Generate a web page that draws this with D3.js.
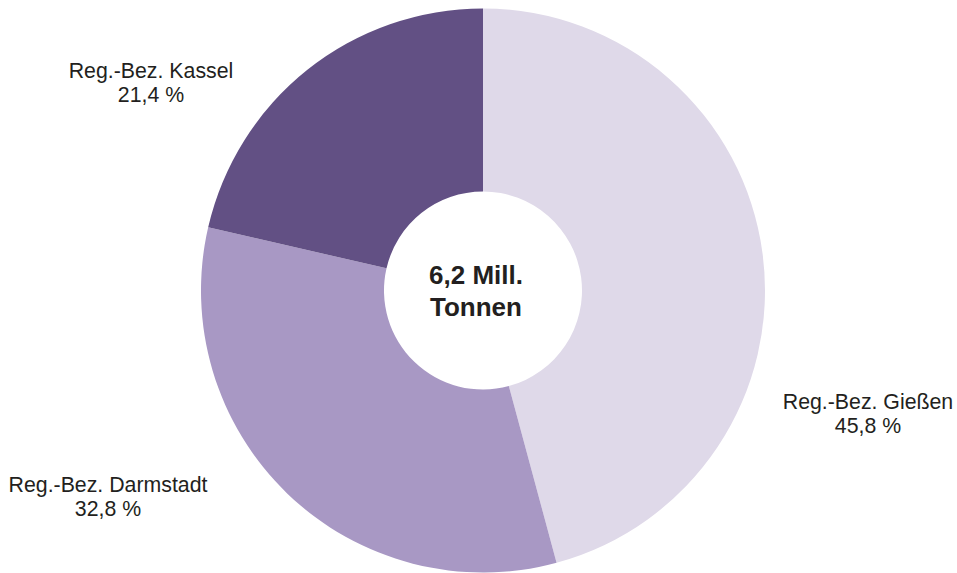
<!DOCTYPE html>
<html><head><meta charset="utf-8">
<script src="https://cdn.jsdelivr.net/npm/d3@7"></script>
<style>body{margin:0;background:#fff}svg{display:block}</style>
</head><body>
<svg id="c" width="957" height="573"></svg>
<script>
const categories = ["Reg.-Bez. Gießen", "Reg.-Bez. Darmstadt", "Reg.-Bez. Kassel"];
const values = [45.8, 32.8, 21.4];
const valueLabels = ["45,8 %", "32,8 %", "21,4 %"];
const colors = ["#dfd9e9", "#a898c4", "#625084"];
const centerLines = ["6,2 Mill.", "Tonnen"];
const labelPos = [[868, 409], [108, 492], [151, 78]];

const svg = d3.select("#c");
const cx = 483, cy = 290.5, R = 282, r = 99;
const g = svg.append("g").attr("transform", `translate(${cx},${cy})`);
const pie = d3.pie().sort(null).value(d => d)(values);
const arc = d3.arc().innerRadius(r).outerRadius(R);
g.selectAll("path").data(pie).join("path")
  .attr("d", arc).attr("fill", (d, i) => colors[i]);

const lab = svg.append("g").attr("font-family", "'Liberation Sans', Arial, sans-serif")
  .attr("font-size", 21.3).attr("fill", "#231f20").attr("text-anchor", "middle");
categories.forEach((c, i) => {
  const t = lab.append("text").attr("x", labelPos[i][0]).attr("y", labelPos[i][1]);
  t.append("tspan").attr("x", labelPos[i][0]).text(c);
  t.append("tspan").attr("x", labelPos[i][0]).attr("dy", 23.5).text(valueLabels[i]);
});

const ct = svg.append("text").attr("font-family", "'Liberation Sans', Arial, sans-serif")
  .attr("font-size", 26).attr("font-weight", "bold").attr("fill", "#231f20")
  .attr("text-anchor", "middle").attr("y", 284);
centerLines.forEach((l, i) => {
  ct.append("tspan").attr("x", 476).attr("dy", i ? 32 : 0).text(l);
});
</script>
</body></html>
